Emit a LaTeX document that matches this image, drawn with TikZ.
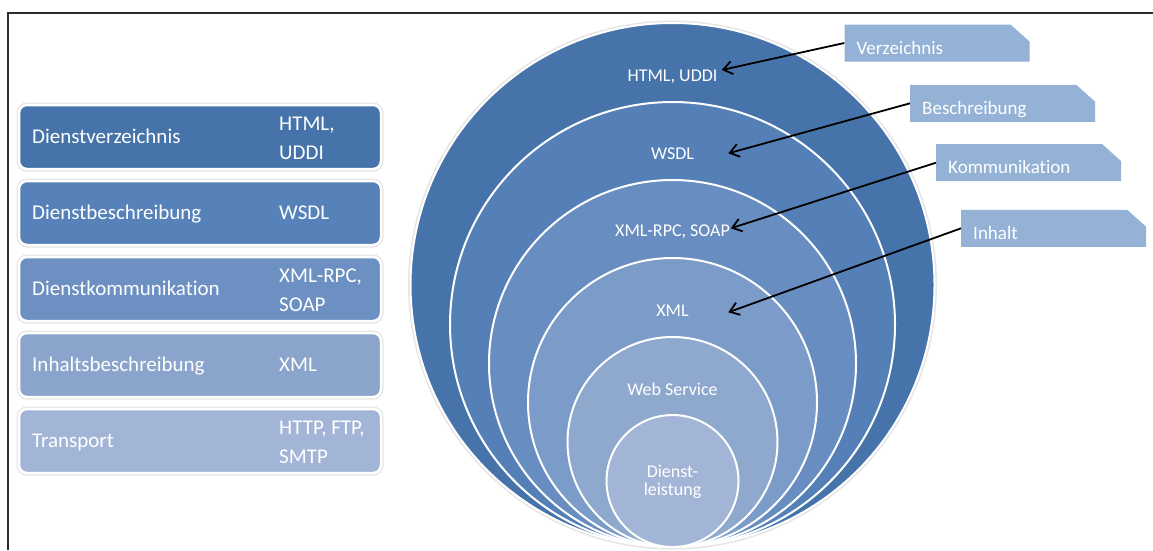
\documentclass[tikz,border=0pt]{standalone}
\usepackage{fontspec}
\setmainfont{Carlito}[Ligatures=NoCommon]
\usetikzlibrary{positioning,calc,arrows.meta}

\definecolor{layerA}{RGB}{70,116,170}
\definecolor{layerB}{RGB}{86,130,185}
\definecolor{layerC}{RGB}{108,144,194}
\definecolor{layerD}{RGB}{138,164,203}
\definecolor{layerE}{RGB}{163,181,214}
\definecolor{ringB}{RGB}{84,128,183}
\definecolor{ringC}{RGB}{104,141,192}
\definecolor{ringD}{RGB}{123,155,200}
\definecolor{ringE}{RGB}{143,168,205}
\definecolor{calloutblue}{RGB}{148,177,214}
\definecolor{framegray}{RGB}{45,45,45}

\tikzstyle{pointer}=[->,line width=1.8pt]
\tikzstyle{ring}=[circle,inner sep=0pt,outer sep=0pt,draw=white,line width=2pt]

\begin{document}
\begin{tikzpicture}[x=1pt,y=-1pt,>={Straight Barb[length=9pt,width=13pt]},
    layerbox/.style={rectangle,rounded corners=8pt,minimum width=362pt,minimum height=64pt,
        outer sep=0pt,draw=white,line width=2.5pt,preaction={draw=black!10,line width=5pt}},
    layername/.style={anchor=west,inner sep=0pt,text=white,font=\fontsize{21}{29}\selectfont,
        text height=13.5pt,text depth=0pt},
    layertech/.style={anchor=west,inner sep=0pt,align=left,text=white,font=\fontsize{21}{29}\selectfont},
    ringtext/.style={anchor=base,inner sep=0pt,align=center,text=white,font=\fontsize{18}{18.3}\selectfont},
    callout/.style={anchor=west,text width=161pt,align=left,inner xsep=12pt,inner ysep=7.5pt,
        minimum height=37pt,text height=22pt,text depth=0pt,text=white,font=\fontsize{19}{22}\selectfont,
        path picture={\fill[calloutblue] (path picture bounding box.south west)
            -- (path picture bounding box.north west)
            -- ([xshift=-19pt]path picture bounding box.north east)
            -- ([yshift=-17pt]path picture bounding box.north east)
            -- (path picture bounding box.south east) -- cycle;}}
]
      \useasboundingbox (0,0) rectangle (1153,550);

      \node [layerbox,fill=layerA] (verz) at (200,137) {};
      \node [layerbox,fill=layerB] (beschr) at (200,213) {};
      \node [layerbox,fill=layerC] (komm) at (200,289) {};
      \node [layerbox,fill=layerD] (inhalt) at (200,365) {};
      \node [layerbox,fill=layerE] (transp) at (200,441) {};

      \node [layername] (nverz) at ($(verz.west)+(13,0)$) {Dienstverzeichnis};
      \node [layername] (nbeschr) at ($(beschr.west)+(13,0)$) {Dienstbeschreibung};
      \node [layername] (nkomm) at ($(komm.west)+(13,0)$) {Dienstkommunikation};
      \node [layername] (ninhalt) at ($(inhalt.west)+(13,0)$) {Inhaltsbeschreibung};
      \node [layername] (ntransp) at ($(transp.west)+(13,0)$) {Transport};

      \node [layertech] (tverz) at ($(verz.west)+(260,1)$) {HTML,\\UDDI};
      \node [layertech] (tbeschr) at ($(beschr.west)+(260,0)$) {WSDL};
      \node [layertech] (tkomm) at ($(komm.west)+(260,1)$) {XML-RPC,\\SOAP};
      \node [layertech] (tinhalt) at ($(inhalt.west)+(260,0)$) {XML};
      \node [layertech] (ttransp) at ($(transp.west)+(260,1)$) {HTTP, FTP,\\SMTP};

      \node [ring,fill=layerA,minimum size=524pt,preaction={draw=black!10,line width=5pt}] (ring1) at (672.5,285) {};
      \node [ring,fill=ringB,minimum size=445pt] (ring2) at (672.5,324.5) {};
      \node [ring,fill=ringC,minimum size=367pt] (ring3) at (672.5,363.5) {};
      \node [ring,fill=ringD,minimum size=289pt] (ring4) at (672.5,402.5) {};
      \node [ring,fill=ringE,minimum size=210pt] (ring5) at (672.5,442) {};
      \node [ring,fill=layerE,minimum size=132pt] (ring6) at (672.5,481) {};

      \node [ringtext] (lverz) at (672.5,81.7) {HTML, UDDI};
      \node [ringtext] (lbeschr) at (672.5,159.3) {WSDL};
      \node [ringtext] (lkomm) at (672.5,236.7) {XML-RPC, SOAP};
      \node [ringtext] (linhalt) at (672.5,316.7) {XML};
      \node [ringtext] (lservice) at (672.5,395) {Web Service};
      \node [ringtext,anchor=center] (lleistung) at (672.5,481.5) {Dienst-\\leistung};

      \node [callout] (cverz) at (844.3,43) {Verzeichnis};
      \node [callout] (cbeschr) at (910,103.3) {Beschreibung};
      \node [callout] (ckomm) at (936,162.7) {Kommunikation};
      \node [callout] (cinhalt) at (961,228.3) {Inhalt};

      \coordinate (pverz) at (721.7,70);
      \coordinate (pbeschr) at (728.3,153.3);
      \coordinate (pkomm) at (730.7,228.3);
      \coordinate (pinhalt) at (728.3,312.3);

      \draw [pointer] (cverz.west) -- (pverz);
      \draw [pointer] (cbeschr.west) -- (pbeschr);
      \draw [pointer] (ckomm.west) -- (pkomm);
      \draw [pointer] (cinhalt.west) -- (pinhalt);

      \draw [framegray,line width=1.5pt] (8,550) -- (8,13) -- (1153,13);

    \end{tikzpicture}
\end{document}
